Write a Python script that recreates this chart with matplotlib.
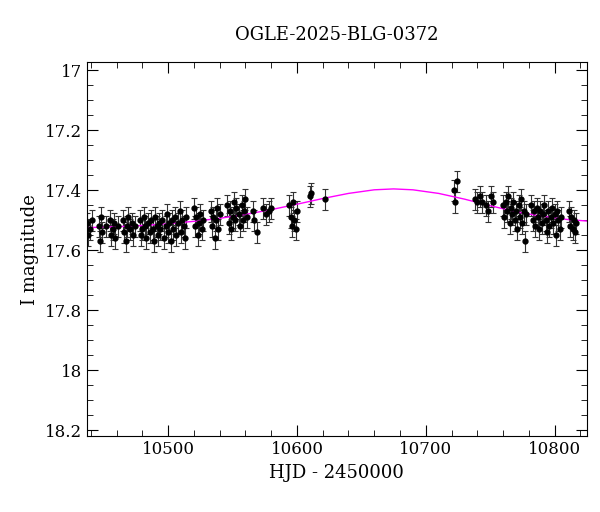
import numpy as np
import matplotlib
matplotlib.use("Agg")
import matplotlib.pyplot as plt

# observations (HJD-2450000, I mag, error)
hjd = [10437, 10438, 10439, 10441, 10446, 10447, 10448, 10449, 10452, 10455, 10456, 10457,
       10458, 10459, 10461, 10465, 10466, 10467, 10468, 10469, 10470, 10472, 10473, 10474,
       10478, 10479, 10480, 10481, 10482, 10483, 10484, 10486, 10487, 10488, 10489, 10490,
       10491, 10492, 10493, 10494, 10495, 10497, 10498, 10499, 10500, 10501, 10502, 10503,
       10504, 10505, 10506, 10508, 10509, 10510, 10511, 10512, 10513, 10514, 10520, 10521,
       10522, 10523, 10524, 10525, 10526, 10527, 10533, 10534, 10535, 10536, 10537, 10538,
       10539, 10540, 10546, 10547, 10548, 10549, 10550, 10551, 10552, 10553, 10555, 10556,
       10557, 10558, 10559, 10560, 10561, 10566, 10567, 10569, 10574, 10576, 10578, 10580,
       10594, 10595, 10596, 10597, 10598, 10599, 10600, 10610, 10611, 10622,
       10722, 10723, 10724, 10738, 10740, 10742, 10744, 10747, 10748, 10751, 10752,
       10760, 10761, 10762, 10763, 10764, 10765, 10766, 10767, 10768, 10769, 10770, 10771,
       10772, 10773, 10774, 10775, 10776, 10777, 10778, 10782, 10783, 10784, 10785, 10786,
       10787, 10788, 10789, 10790, 10791, 10792, 10793, 10794, 10795, 10796, 10797, 10798,
       10799, 10800, 10801, 10802, 10803, 10804, 10805, 10811, 10812, 10813, 10814, 10815,
       10816, 10817]
mag = [17.51, 17.55, 17.53, 17.50, 17.52, 17.57, 17.49, 17.54, 17.52, 17.50, 17.55, 17.53,
       17.51, 17.56, 17.52, 17.50, 17.54, 17.57, 17.52, 17.49, 17.53, 17.51, 17.55, 17.52,
       17.50, 17.55, 17.53, 17.49, 17.52, 17.56, 17.51, 17.54, 17.50, 17.53, 17.57, 17.49,
       17.52, 17.55, 17.51, 17.53, 17.50, 17.56, 17.52, 17.48, 17.54, 17.51, 17.57, 17.50,
       17.53, 17.49, 17.55, 17.51, 17.47, 17.54, 17.50, 17.52, 17.56, 17.49, 17.46, 17.52,
       17.49, 17.55, 17.51, 17.48, 17.53, 17.50, 17.47, 17.52, 17.49, 17.56, 17.50, 17.46,
       17.53, 17.48, 17.45, 17.51, 17.47, 17.53, 17.49, 17.44, 17.50, 17.46, 17.48, 17.52,
       17.45, 17.50, 17.47, 17.43, 17.49, 17.47, 17.50, 17.54, 17.46, 17.48, 17.47, 17.46,
       17.45, 17.49, 17.52, 17.44, 17.50, 17.53, 17.47, 17.42, 17.41, 17.43,
       17.40, 17.44, 17.37, 17.43, 17.44, 17.42, 17.44, 17.45, 17.47, 17.42, 17.44,
       17.45, 17.49, 17.44, 17.47, 17.42, 17.51, 17.46, 17.48, 17.44, 17.50, 17.47, 17.53,
       17.45, 17.49, 17.43, 17.51, 17.47, 17.57, 17.48, 17.45, 17.50, 17.47, 17.52, 17.46,
       17.49, 17.53, 17.47, 17.51, 17.48, 17.45, 17.50, 17.54, 17.47, 17.52, 17.49, 17.46,
       17.51, 17.48, 17.55, 17.47, 17.50, 17.53, 17.49, 17.47, 17.52, 17.49, 17.53, 17.50,
       17.54, 17.51]
err = [0.035] * len(mag)

# microlensing model curve
model_t = [10437, 10460, 10480, 10500, 10520, 10540, 10560, 10580, 10600, 10620, 10640,
           10660, 10675, 10690, 10710, 10730, 10750, 10770, 10790, 10810, 10825]
model_m = [17.525, 17.522, 17.518, 17.512, 17.504, 17.494, 17.481, 17.465, 17.447, 17.428,
           17.411, 17.399, 17.396, 17.399, 17.411, 17.430, 17.452, 17.472, 17.487, 17.498, 17.503]

plt.rcParams["font.family"] = "DejaVu Serif"
fig, ax = plt.subplots(figsize=(6, 5.12), dpi=100)
fig.subplots_adjust(left=0.145, right=0.978, top=0.879, bottom=0.148)

ax.errorbar(hjd, mag, yerr=err, fmt="o", color="black", ms=3.5, elinewidth=0.8,
            capsize=2.5, capthick=0.8, ecolor="#333333")
ax.plot(model_t, model_m, color="magenta", lw=1)

ax.set_xlim(10437, 10825)
ax.set_ylim(18.22, 16.973)
ax.set_yticks([17, 17.2, 17.4, 17.6, 17.8, 18, 18.2])
ax.set_yticklabels(["17", "17.2", "17.4", "17.6", "17.8", "18", "18.2"])
ax.set_xticks([10500, 10600, 10700, 10800])
ax.minorticks_on()
ax.tick_params(which="both", direction="in", top=True, right=True, labelsize=12)
ax.tick_params(which="major", length=8)
ax.tick_params(which="minor", length=4)
ax.set_xlabel("HJD - 2450000", fontsize=13)
ax.set_ylabel("I magnitude", fontsize=13)
ax.set_title("OGLE-2025-BLG-0372", fontsize=13, pad=16)

fig.savefig("out.png")
